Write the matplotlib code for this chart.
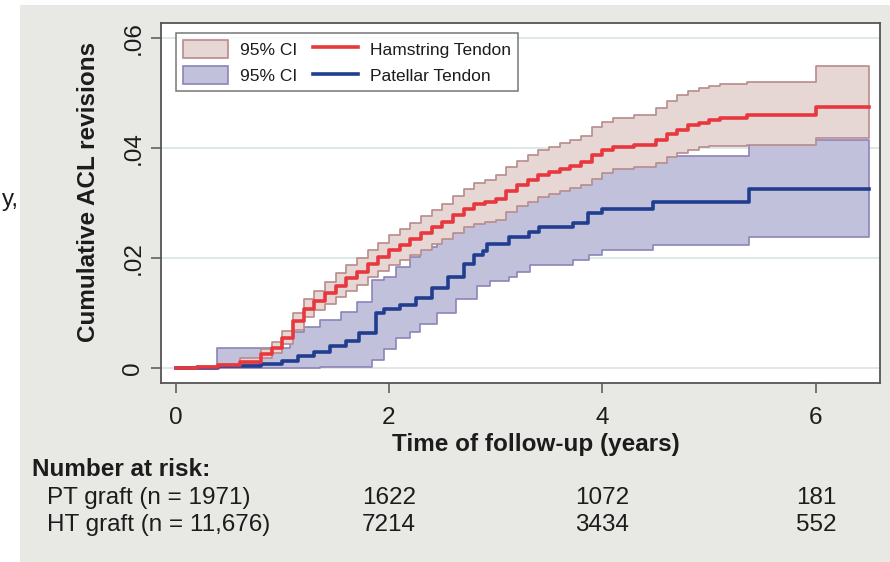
import matplotlib
matplotlib.use("Agg")
import matplotlib.pyplot as plt
from matplotlib.patches import Rectangle, Patch
from matplotlib.lines import Line2D

plt.rcParams['font.family'] = ['Liberation Sans', 'DejaVu Sans']

# Hamstring tendon (HT) cumulative revision estimate and 95% CI
ht_t = [0, 0.2, 0.4, 0.6, 0.8, 0.9, 1.0, 1.1, 1.2, 1.3, 1.4, 1.5, 1.6, 1.7, 1.8, 1.9,
        2.0, 2.1, 2.2, 2.3, 2.4, 2.5, 2.6, 2.7, 2.8, 2.9, 3.0, 3.1, 3.2, 3.3, 3.4, 3.5,
        3.6, 3.7, 3.8, 3.9, 4.0, 4.1, 4.3, 4.5, 4.6, 4.7, 4.8, 4.9, 5.0, 5.1, 5.35, 6.0, 6.5]
ht_est = [0, 0.0002, 0.0005, 0.0012, 0.0026, 0.0037, 0.0055, 0.0085, 0.0108, 0.0122,
          0.0136, 0.0150, 0.0163, 0.0175, 0.0190, 0.0202, 0.0214, 0.0224, 0.0234, 0.0245,
          0.0256, 0.0266, 0.0279, 0.0290, 0.0298, 0.0302, 0.0307, 0.0322, 0.0332, 0.0342,
          0.0350, 0.0356, 0.0362, 0.0367, 0.0374, 0.0387, 0.0396, 0.0402, 0.0406, 0.0414,
          0.0425, 0.0433, 0.0441, 0.0446, 0.0451, 0.0455, 0.0460, 0.0475, 0.0475]
ht_hi = [0, 0.0004, 0.0008, 0.0018, 0.0034, 0.0047, 0.0067, 0.0100, 0.0125, 0.0140,
         0.0156, 0.0172, 0.0187, 0.0200, 0.0215, 0.0228, 0.0242, 0.0253, 0.0264, 0.0276,
         0.0288, 0.0299, 0.0313, 0.0325, 0.0336, 0.0342, 0.0351, 0.0366, 0.0377, 0.0387,
         0.0396, 0.0402, 0.0409, 0.0414, 0.0422, 0.0438, 0.0448, 0.0454, 0.0459, 0.0472,
         0.0486, 0.0496, 0.0504, 0.0509, 0.0513, 0.0516, 0.0520, 0.0548, 0.0548]
ht_lo = [0, 0.0001, 0.0002, 0.0007, 0.0018, 0.0028, 0.0043, 0.0070, 0.0092, 0.0105,
         0.0117, 0.0130, 0.0141, 0.0151, 0.0165, 0.0176, 0.0187, 0.0196, 0.0205, 0.0215,
         0.0225, 0.0234, 0.0246, 0.0256, 0.0262, 0.0265, 0.0270, 0.0284, 0.0294, 0.0302,
         0.0310, 0.0317, 0.0322, 0.0327, 0.0332, 0.0344, 0.0355, 0.0361, 0.0365, 0.0373,
         0.0383, 0.0391, 0.0397, 0.0401, 0.0403, 0.0404, 0.0405, 0.0418, 0.0418]

# Patellar tendon (PT) cumulative revision estimate
pt_t = [0, 0.4, 0.8, 1.0, 1.15, 1.3, 1.45, 1.6, 1.72, 1.88, 1.95, 2.1, 2.25, 2.4, 2.55,
        2.7, 2.8, 2.88, 2.92, 3.12, 3.31, 3.41, 3.72, 3.86, 4.0, 4.47, 5.37, 6.5]
pt_est = [0, 0.0004, 0.0008, 0.0013, 0.0022, 0.0030, 0.0040, 0.0050, 0.0063, 0.0100,
          0.0108, 0.0115, 0.0128, 0.0145, 0.0165, 0.0190, 0.0205, 0.0212, 0.0226, 0.0239,
          0.0248, 0.0257, 0.0263, 0.0281, 0.0290, 0.0301, 0.0325, 0.0325]

# PT 95% CI bounds
pt_ci_t = [0, 0.39, 1.07, 1.2, 1.35, 1.55, 1.7, 1.84, 1.95, 2.07, 2.2, 2.29, 2.45, 2.63,
           2.82, 2.95, 3.12, 3.2, 3.32, 3.72, 3.87, 4.0, 4.47, 5.37, 6.5]
pt_hi = [0, 0.0036, 0.0066, 0.0075, 0.0087, 0.0102, 0.0120, 0.0160, 0.0166, 0.0184,
         0.0202, 0.0220, 0.0245, 0.0263, 0.0285, 0.0300, 0.0310, 0.0320, 0.0330, 0.0345,
         0.0355, 0.0368, 0.0385, 0.0415, 0.0415]
pt_lo = [0, 0.0000, 0.0001, 0.0001, 0.0002, 0.0002, 0.0002, 0.0015, 0.0035, 0.0055,
         0.0065, 0.0080, 0.0100, 0.0125, 0.0150, 0.0158, 0.0166, 0.0175, 0.0187, 0.0196,
         0.0205, 0.0215, 0.0224, 0.0239, 0.0239]

risk_times = [2, 4, 6]
risk_pt = ['1622', '1072', '181']
risk_ht = ['7214', '3434', '552']
risk_labels = ['PT graft (n = 1971)', 'HT graft (n = 11,676)']

red = '#e8383d'
navy = '#213d8f'
red_fill, red_edge = '#e6d6d4', '#b98b8b'
blue_fill, blue_edge = '#c1c1dc', '#8c84ba'
txt = '#1c1c1c'
fs = 17.5

fig = plt.figure(figsize=(8.9, 5.62), dpi=100, facecolor='white')
fig.patches.append(Rectangle((20 / 890, 0), 1, 1 - 5 / 562, transform=fig.transFigure,
                             facecolor='#e8e9e5', edgecolor='none', zorder=-5))
fig.text(2 / 890, 1 - 200 / 562, 'y,', fontsize=fs, color=txt, va='center', ha='left')

ax = fig.add_axes([161 / 890, 1 - 383 / 562, 719 / 890, 360 / 562])
ax.set_facecolor('white')

ax.fill_between(pt_ci_t, pt_lo, pt_hi, step='post', facecolor=blue_fill,
                edgecolor=blue_edge, linewidth=1.2, zorder=2)
ax.fill_between(ht_t, ht_lo, ht_hi, step='post', facecolor=red_fill,
                edgecolor=red_edge, linewidth=1.2, zorder=3)
ax.step(pt_t, pt_est, where='post', color=navy, linewidth=2.6, zorder=4)
ax.step(ht_t, ht_est, where='post', color=red, linewidth=2.6, zorder=5)

ax.set_xlim(-0.136, 6.6)
ax.set_ylim(-0.0027, 0.0627)
ax.set_xticks([0, 2, 4, 6])
ax.set_yticks([0, 0.02, 0.04, 0.06])
ax.set_yticklabels(['0', '.02', '.04', '.06'], rotation=90, va='center')
ax.tick_params(axis='both', labelsize=fs, colors='#555555', labelcolor=txt,
               length=7, width=1.1)
ax.tick_params(axis='x', pad=10)
ax.tick_params(axis='y', pad=5)
ax.grid(axis='y', color='#dce9e8', linewidth=1.4, zorder=0)
ax.set_axisbelow(True)
for s in ax.spines.values():
    s.set_color('#555555')
    s.set_linewidth(1.3)

ax.set_xlabel('Time of follow-up (years)', fontsize=fs, fontweight='bold', color=txt)
ax.xaxis.set_label_coords(0.522, -0.139)
ax.set_ylabel('Cumulative ACL revisions', fontsize=fs, fontweight='bold', color=txt)
ax.yaxis.set_label_coords(-0.085, 0.53)

handles = [Patch(facecolor=red_fill, edgecolor=red_edge, linewidth=1.2),
           Patch(facecolor=blue_fill, edgecolor=blue_edge, linewidth=1.2),
           Line2D([], [], color=red, linewidth=2.6),
           Line2D([], [], color=navy, linewidth=2.6)]
labels = ['95% CI', '95% CI', 'Hamstring Tendon', 'Patellar Tendon']
leg = ax.legend(handles, labels, ncol=2, loc='upper left',
                bbox_to_anchor=(15 / 719, 1 - 10 / 360), borderaxespad=0,
                fontsize=12.5, frameon=True, fancybox=False, handlelength=2.6,
                handleheight=1.2, columnspacing=0.9, handletextpad=0.7,
                labelspacing=0.5, borderpad=0.4)
leg.get_frame().set_edgecolor('#555555')
leg.get_frame().set_linewidth(1.1)
for t in leg.get_texts():
    t.set_color(txt)

# number-at-risk table under the axis
trans = ax.get_xaxis_transform()
fig.text(32 / 890, 1 - 470 / 562, 'Number at risk:', fontsize=fs, fontweight='bold',
         color=txt, va='center', ha='left')
fig.text(47 / 890, 1 - 498 / 562, risk_labels[0], fontsize=fs, color=txt,
         va='center', ha='left')
fig.text(47 / 890, 1 - 525 / 562, risk_labels[1], fontsize=fs, color=txt,
         va='center', ha='left')
for x, a, b in zip(risk_times, risk_pt, risk_ht):
    ax.text(x, -(498 - 383) / 360, a, transform=trans, fontsize=fs, color=txt,
            ha='center', va='center', clip_on=False)
    ax.text(x, -(525 - 383) / 360, b, transform=trans, fontsize=fs, color=txt,
            ha='center', va='center', clip_on=False)

fig.savefig('out.png', dpi=100, facecolor=fig.get_facecolor())
